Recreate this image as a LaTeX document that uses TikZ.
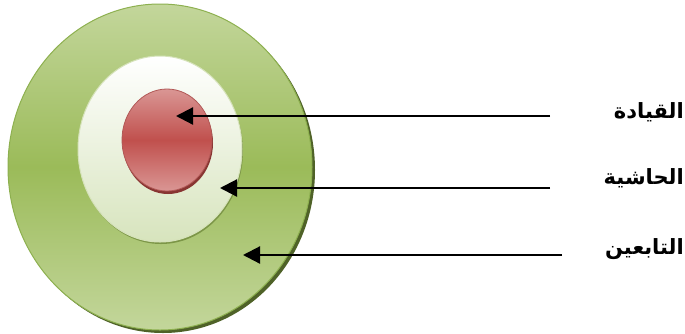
\documentclass[tikz,border=0pt]{standalone}
\usepackage{fontspec}
\usetikzlibrary{arrows.meta,shadows}
\TeXXeTstate=1
\newfontfamily\arabicfont[Script=Arabic]{DejaVu Sans}
\definecolor{gdark}{HTML}{9BBB59}
\definecolor{glight}{HTML}{C3D69B}
\definecolor{gedge}{HTML}{8DB04F}
\definecolor{gshadow}{HTML}{4F6228}
\definecolor{wbot}{HTML}{D7E4BD}
\definecolor{rmid}{HTML}{C0504D}
\definecolor{rlight}{HTML}{DA9694}
\definecolor{redge}{HTML}{A03E3B}
\tikzset{
  lbl/.style={font=\arabicfont\bfseries\fontsize{21}{25}\selectfont, anchor=east, inner sep=0pt},
  arr/.style={line width=2.2pt, -{Triangle[length=17pt,width=17pt]}}
}
\begin{document}
\begin{tikzpicture}[x=1pt,y=-1pt]
\useasboundingbox (0,0) rectangle (685,333);
% outer ellipse
\fill[gshadow] (163,170) ellipse [x radius=152, y radius=163];
\shade[top color=glight, bottom color=glight, middle color=gdark, draw=gedge, line width=1pt]
  (160,167) ellipse [x radius=152, y radius=163];
% inner white ellipse
\fill[gdark!80!black] (161,151) ellipse [x radius=82, y radius=93];
\shade[top color=white, bottom color=wbot, draw=glight!70!white, line width=1pt]
  (160,149) ellipse [x radius=82, y radius=93];
% red ellipse
\fill[redge!85!black] (168,143) ellipse [x radius=45, y radius=51];
\shade[top color=rlight, bottom color=rlight, middle color=rmid, draw=redge!70!rlight, line width=0.8pt]
  (167,140) ellipse [x radius=45, y radius=51];
% labels
\node[lbl] (l1) at (684,112) {\beginR القيادة\endR};
\node[lbl] (l2) at (684,178) {\beginR الحاشية\endR};
\node[lbl] (l3) at (684,249) {\beginR التابعين\endR};
% arrow endpoints
\coordinate (s1) at (550,116);
\coordinate (s2) at (550,188);
\coordinate (s3) at (562,255);
\coordinate (t1) at (176,116);
\coordinate (t2) at (220,188);
\coordinate (t3) at (243,255);
\draw[arr] (s1) -- (t1);
\draw[arr] (s2) -- (t2);
\draw[arr] (s3) -- (t3);
\end{tikzpicture}
\end{document}
